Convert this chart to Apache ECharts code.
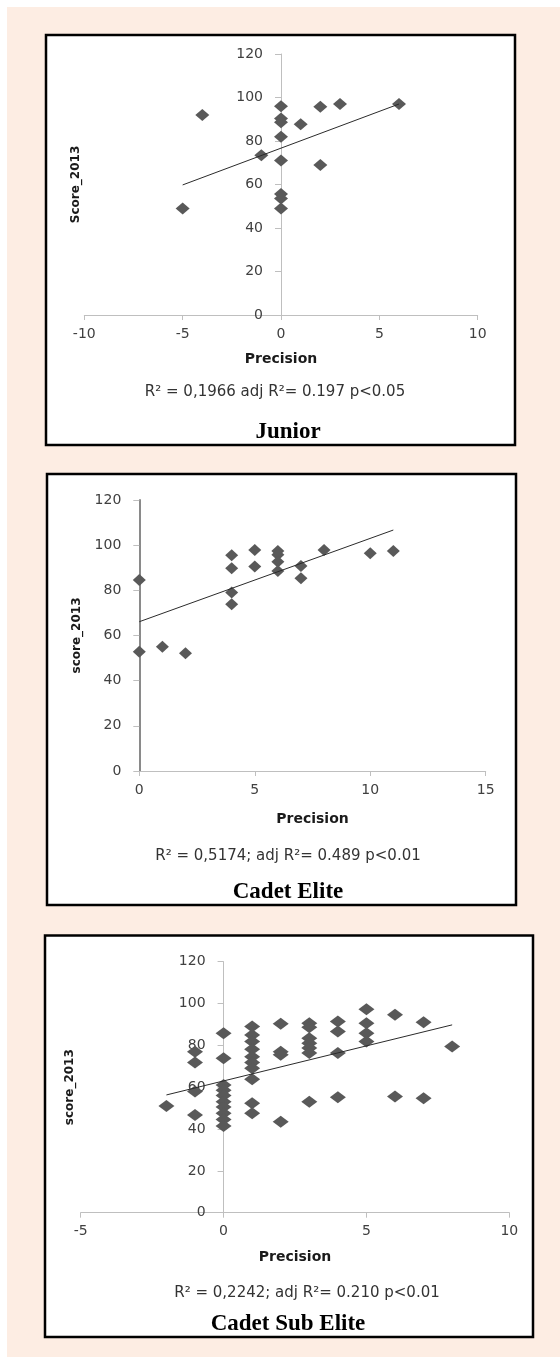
<!DOCTYPE html>
<html>
<head>
<meta charset="utf-8">
<script src="https://cdn.jsdelivr.net/npm/echarts@6/dist/echarts.min.js"></script>
<style>
html,body{margin:0;padding:0;background:#ffffff;}
#chart{width:560px;height:1357px;}
</style>
</head>
<body>
<div id="chart"></div>
<script>
// ---------- data ----------
var juniorPrecision = [-5, -4, -1, 0, 0, 0, 0, 0, 0, 0, 0, 1, 2, 2, 3, 6];
var juniorScore     = [49, 92, 73.5, 96, 90.4, 88.6, 82, 71, 55.6, 53.6, 49, 87.7, 95.8, 69, 97, 97];
var juniorTrendX = [-5, 6];
var juniorTrendY = [59.8, 97];

var elitePrecision = [0, 0, 1, 2, 4, 4, 4, 4, 5, 5, 6, 6, 6, 6, 7, 7, 8, 10, 11];
var eliteScore     = [84.6, 52.8, 55, 52.1, 95.5, 89.8, 79, 73.8, 97.9, 90.5, 97.4, 95.8, 92.7, 88.6, 90.8, 85.3, 97.9, 96.4, 97.4];
var eliteTrendX = [0, 11];
var eliteTrendY = [66.1, 106.7];

var subPrecision = [-2,
  -1, -1, -1, -1,
  0, 0, 0, 0, 0, 0, 0, 0, 0, 0,
  1, 1, 1, 1, 1, 1, 1, 1, 1, 1,
  2, 2, 2, 2,
  3, 3, 3, 3, 3, 3, 3,
  4, 4, 4, 4,
  5, 5, 5, 5,
  6, 6,
  7, 7,
  8];
var subScore = [51,
  77, 71.8, 57.9, 46.7,
  85.8, 73.9, 61, 58.5, 56, 53, 50.5, 47.5, 44.5, 41.5,
  89, 85, 81.8, 78.2, 74.6, 71.8, 69.1, 63.8, 52.3, 47.6,
  90.3, 77, 75.5, 43.5,
  90.6, 88.7, 83.4, 81, 78.7, 76.3, 53.1,
  91.4, 86.6, 76.3, 55.2,
  97.3, 90.6, 85.8, 81.8,
  94.6, 55.5,
  91.1, 54.7,
  79.4];
var subTrendX = [-2, 8];
var subTrendY = [56.3, 89.8];

var yTicks = {min: 0, max: 120, interval: 20};
var juniorXTicks = {min: -10, max: 10, interval: 5};
var eliteXTicks  = {min: 0, max: 15, interval: 5};
var subXTicks    = {min: -5, max: 10, interval: 5};

var xTitle = 'Precision';
var yTitles = ['Score_2013', 'score_2013', 'score_2013'];
var statTexts = [
  'R\u00B2 = 0,1966 adj R\u00B2= 0.197 p<0.05',
  'R\u00B2 = 0,5174; adj R\u00B2= 0.489 p<0.01',
  'R\u00B2 = 0,2242; adj R\u00B2= 0.210 p<0.01'
];
var panelNames = ['Junior', 'Cadet Elite', 'Cadet Sub Elite'];

// ---------- helpers ----------
function zip(a, b) { return a.map(function (v, i) { return [v, b[i]]; }); }

var LABEL_FONT = '"DejaVu Sans", "Open Sans", sans-serif';
var grids = [
  {left: 84.3, top: 54, width: 393.4, height: 261, outerBoundsMode: 'none'},
  {left: 139.3, top: 500, width: 346.4, height: 271, outerBoundsMode: 'none'},
  {left: 80.7, top: 961.7, width: 428.6, height: 251, outerBoundsMode: 'none'}
];
// distance from the y axis (at x = 0) to the rotated y-axis title
var yNameGaps = [199, 56, 148];
var xNameGaps = [37, 41, 38];
var yLineStyles = [
  {color: '#bfbfbf', width: 1},
  {color: '#8a8a8a', width: 2},
  {color: '#bfbfbf', width: 1}
];
var xTickSets = [juniorXTicks, eliteXTicks, subXTicks];
var symbolSizes = [[14, 12], [13, 12], [16, 12]];

var xAxes = [], yAxes = [], series = [];
for (var i = 0; i < 3; i++) {
  var xs = xTickSets[i];
  // move the whole y axis (line, ticks, labels) to x = 0, as in the original
  var zeroShift = grids[i].width * (0 - xs.min) / (xs.max - xs.min);
  xAxes.push({
    type: 'value', gridIndex: i,
    min: xs.min, max: xs.max, interval: xs.interval,
    splitLine: {show: false},
    axisLine: {show: true, onZero: false, lineStyle: {color: '#bfbfbf', width: 1}},
    axisTick: {show: true, length: 5, lineStyle: {color: '#bfbfbf'}},
    axisLabel: {color: '#404040', fontSize: 14, fontFamily: LABEL_FONT, margin: 12},
    name: xTitle, nameLocation: 'middle', nameGap: xNameGaps[i],
    nameTextStyle: {color: '#1a1a1a', fontSize: 14, fontWeight: 'bold', fontFamily: LABEL_FONT}
  });
  yAxes.push({
    type: 'value', gridIndex: i, position: 'left', offset: -zeroShift,
    min: yTicks.min, max: yTicks.max, interval: yTicks.interval,
    splitLine: {show: false},
    axisLine: {show: true, onZero: false, lineStyle: yLineStyles[i]},
    axisTick: {show: true, length: 6, lineStyle: {color: '#bfbfbf'}},
    axisLabel: {color: '#404040', fontSize: 14, fontFamily: LABEL_FONT, margin: 18},
    name: yTitles[i], nameLocation: 'middle', nameGap: yNameGaps[i], nameRotate: 90,
    nameTextStyle: {color: '#1a1a1a', fontSize: 12, fontWeight: 'bold', fontFamily: LABEL_FONT}
  });
}

var scatterData = [zip(juniorPrecision, juniorScore), zip(elitePrecision, eliteScore), zip(subPrecision, subScore)];
var trendData = [zip(juniorTrendX, juniorTrendY), zip(eliteTrendX, eliteTrendY), zip(subTrendX, subTrendY)];

for (var j = 0; j < 3; j++) {
  series.push({
    type: 'line', xAxisIndex: j, yAxisIndex: j, data: trendData[j],
    showSymbol: false, silent: true, z: 3,
    lineStyle: {color: '#2b2b2b', width: 1}
  });
  series.push({
    type: 'scatter', xAxisIndex: j, yAxisIndex: j, data: scatterData[j],
    symbol: 'diamond', symbolSize: symbolSizes[j], z: 2,
    itemStyle: {color: '#595959', opacity: 1}
  });
}

var boxes = [
  {x: 46, y: 35, w: 469, h: 410},
  {x: 47, y: 474, w: 469, h: 431},
  {x: 45, y: 935.5, w: 488, h: 401.5}
];
var statPos = [[275, 392], [288, 856], [307, 1293]];
var namePos = [[288, 432], [288, 892], [288, 1324]];

var graphics = [{
  type: 'rect', shape: {x: 7, y: 7, width: 553, height: 1350},
  style: {fill: '#fdede3'}, z: -10, silent: true
}];
boxes.forEach(function (b) {
  graphics.push({
    type: 'rect', shape: {x: b.x, y: b.y, width: b.w, height: b.h},
    style: {fill: '#ffffff', stroke: '#000000', lineWidth: 2.5}, z: -9, silent: true
  });
});
for (var k = 0; k < 3; k++) {
  graphics.push({
    type: 'text', x: statPos[k][0], y: statPos[k][1], silent: true,
    style: {text: statTexts[k], fill: '#333333', font: '15px ' + LABEL_FONT, align: 'center', verticalAlign: 'middle'}
  });
  graphics.push({
    type: 'text', x: namePos[k][0], y: namePos[k][1], silent: true,
    style: {text: panelNames[k], fill: '#000000', font: 'bold 23px "Liberation Serif", "Times New Roman", serif', align: 'center', verticalAlign: 'middle'}
  });
}

var chart = echarts.init(document.getElementById('chart'), null, {renderer: 'canvas'});
chart.setOption({
  animation: false,
  backgroundColor: '#ffffff',
  grid: grids,
  xAxis: xAxes,
  yAxis: yAxes,
  series: series,
  graphic: graphics
});
</script>
</body>
</html>
